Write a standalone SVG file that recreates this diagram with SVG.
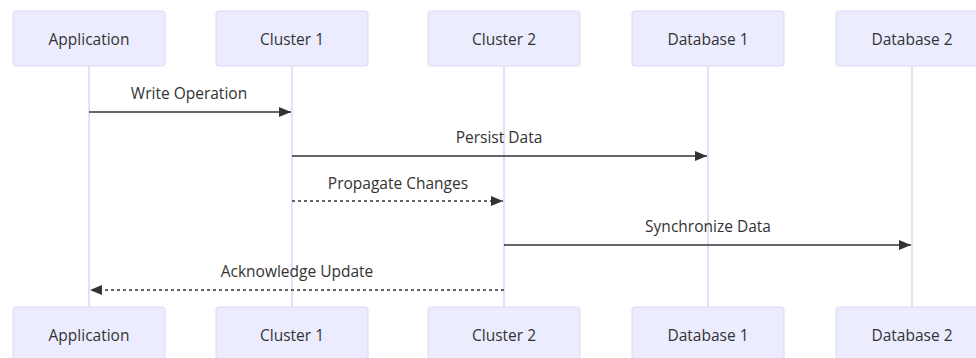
<svg xmlns="http://www.w3.org/2000/svg" width="976" height="358" viewBox="0 0 976 358">
<defs>
<style>
.actor{fill:#ECECFF;stroke:#DDD6F5;stroke-width:1}
.atext{font-family:"Open Sans","Noto Sans",sans-serif;font-size:15.5px;fill:#333;text-anchor:middle;dominant-baseline:central}
.life{stroke:#DDD6F5;stroke-width:1.5}
.msg{stroke:#333;stroke-width:1.5;fill:none}
.dash{stroke-dasharray:3,3}
.mtext{font-family:"Open Sans","Noto Sans",sans-serif;font-size:15.5px;fill:#333;text-anchor:middle;dominant-baseline:central}
</style>
<marker id="arrow" viewBox="0 0 12 10" refX="12" refY="5" markerWidth="12" markerHeight="10" markerUnits="userSpaceOnUse" orient="auto-start-reverse">
<path d="M0,0 L12,5 L0,10 z" fill="#333"/>
</marker>
</defs>
<rect width="976" height="358" fill="#fff"/>
<g id="lifelines">
<line class="life" x1="89" y1="66" x2="89" y2="307"/>
<line class="life" x1="292" y1="66" x2="292" y2="307"/>
<line class="life" x1="504" y1="66" x2="504" y2="307"/>
<line class="life" x1="708" y1="66" x2="708" y2="307"/>
<line class="life" x1="912" y1="66" x2="912" y2="307"/>
</g>
<g id="application">
<rect class="actor" x="13" y="11" width="152" height="55" rx="3"/>
<text class="atext" x="89" y="38.5">Application</text>
<rect class="actor" x="13" y="307" width="152" height="56" rx="3"/>
<text class="atext" x="89" y="335">Application</text>
</g>
<g id="cluster1">
<rect class="actor" x="216" y="11" width="152" height="55" rx="3"/>
<text class="atext" x="292" y="38.5">Cluster 1</text>
<rect class="actor" x="216" y="307" width="152" height="56" rx="3"/>
<text class="atext" x="292" y="335">Cluster 1</text>
</g>
<g id="cluster2">
<rect class="actor" x="428" y="11" width="152" height="55" rx="3"/>
<text class="atext" x="504" y="38.5">Cluster 2</text>
<rect class="actor" x="428" y="307" width="152" height="56" rx="3"/>
<text class="atext" x="504" y="335">Cluster 2</text>
</g>
<g id="database1">
<rect class="actor" x="632" y="11" width="152" height="55" rx="3"/>
<text class="atext" x="708" y="38.5">Database 1</text>
<rect class="actor" x="632" y="307" width="152" height="56" rx="3"/>
<text class="atext" x="708" y="335">Database 1</text>
</g>
<g id="database2">
<rect class="actor" x="836" y="11" width="152" height="55" rx="3"/>
<text class="atext" x="912" y="38.5">Database 2</text>
<rect class="actor" x="836" y="307" width="152" height="56" rx="3"/>
<text class="atext" x="912" y="335">Database 2</text>
</g>
<g id="connectors">
<line class="msg" x1="89" y1="112" x2="291" y2="112" marker-end="url(#arrow)"/>
<text class="mtext" x="189" y="93">Write Operation</text>
<line class="msg" x1="292" y1="156" x2="707" y2="156" marker-end="url(#arrow)"/>
<text class="mtext" x="499" y="137">Persist Data</text>
<line class="msg dash" x1="292" y1="201" x2="503" y2="201" marker-end="url(#arrow)"/>
<text class="mtext" x="398" y="183">Propagate Changes</text>
<line class="msg" x1="504" y1="245" x2="911" y2="245" marker-end="url(#arrow)"/>
<text class="mtext" x="708" y="226">Synchronize Data</text>
<line class="msg dash" x1="504" y1="290" x2="90" y2="290" marker-end="url(#arrow)"/>
<text class="mtext" x="297" y="270.5">Acknowledge Update</text>
</g>
</svg>
